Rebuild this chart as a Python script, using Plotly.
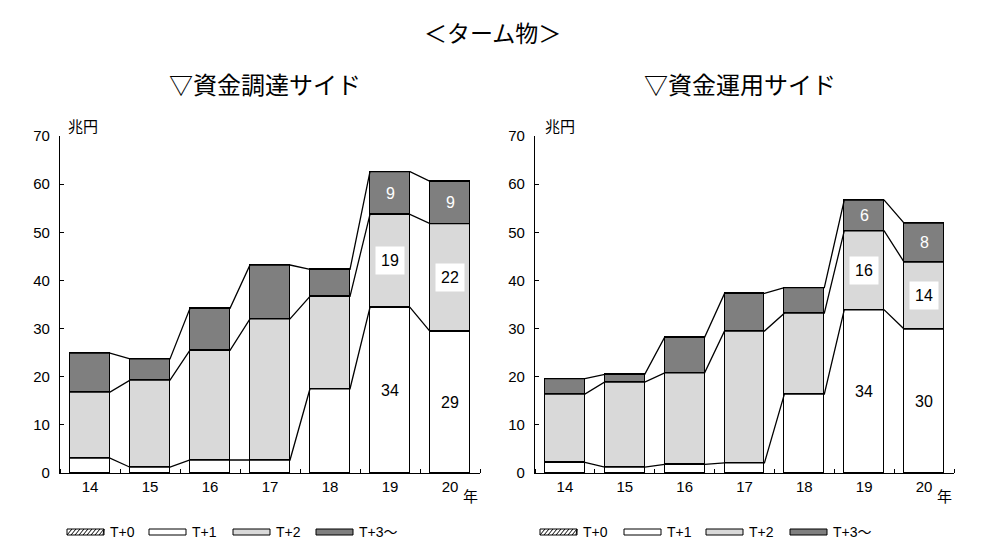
import plotly.graph_objects as go

# ---------------- data ----------------
years = ["14", "15", "16", "17", "18", "19", "20"]
series_names = ["T+0", "T+1", "T+2", "T+3～"]

# 資金調達サイド (兆円)
fund_t0 = [0, 0, 0, 0, 0, 0, 0]
fund_t1 = [3.1, 1.2, 2.7, 2.7, 17.5, 34.4, 29.4]
fund_t2 = [13.7, 18.1, 22.8, 29.3, 19.2, 19.3, 22.4]
fund_t3 = [8.1, 4.4, 8.7, 11.2, 5.6, 8.9, 8.8]

# 資金運用サイド (兆円)
inv_t0 = [0, 0, 0, 0, 0, 0, 0]
inv_t1 = [2.2, 1.2, 1.8, 2.1, 16.4, 33.9, 29.9]
inv_t2 = [14.2, 17.7, 19.0, 27.4, 16.8, 16.4, 13.9]
inv_t3 = [3.2, 1.6, 7.4, 7.8, 5.3, 6.4, 8.1]

labeled_years = ["19", "20"]

main_title = "＜ターム物＞"
sub_titles = ["▽資金調達サイド", "▽資金運用サイド"]
unit_label = "兆円"
year_label = "年"

# ---------------- style ----------------
W, H = 985, 558
OFF = 8  # page offset of the figure inside the browser window
JP = "Noto Sans CJK JP"
NUM = "Liberation Sans Narrow, Liberation Sans, " + JP
colors = ["white", "white", "#d9d9d9", "#7f7f7f"]
BW = 0.667
LW = 1.3

def px_x(p):
    return (p - OFF) / W

def px_y(p):
    return 1 - (p - OFF) / H

def note(x, y, text, size, family=JP, xanchor="center", color="black"):
    return dict(x=px_x(x), y=px_y(y), xref="paper", yref="paper", text=text,
                showarrow=False, xanchor=xanchor, yanchor="middle",
                font=dict(family=family, size=size, color=color))

fig = go.Figure()

panels = [
    dict(data=[fund_t0, fund_t1, fund_t2, fund_t3], xa="x", ya="y",
         dom=[px_x(60), px_x(480)], title_x=265, unit_x=83, year_x=470),
    dict(data=[inv_t0, inv_t1, inv_t2, inv_t3], xa="x2", ya="y2",
         dom=[px_x(535), px_x(954)], title_x=740, unit_x=560, year_x=944),
]
ydom = [px_y(473), px_y(136)]
xpos = list(range(len(years)))

annotations = []
for pi, p in enumerate(panels):
    segs = p["data"]
    for si, vals in enumerate(segs):
        marker = dict(color=colors[si], line=dict(color="black", width=LW))
        if si == 0:
            marker["pattern"] = dict(shape="/", fgcolor="black", bgcolor="white", size=5)
        fig.add_trace(go.Bar(x=xpos, y=vals, width=BW, marker=marker,
                             name=series_names[si], showlegend=False,
                             xaxis=p["xa"], yaxis=p["ya"], hoverinfo="skip"))
    cum = [0.0] * len(years)
    for si, vals in enumerate(segs):
        lower = cum[:]
        cum = [c + v for c, v in zip(cum, vals)]
        if si >= 1:
            lx, ly = [], []
            for i, v in enumerate(cum):
                lx += [i - BW / 2, i + BW / 2]
                ly += [v, v]
            fig.add_trace(go.Scatter(x=lx, y=ly, mode="lines",
                                     line=dict(color="black", width=LW),
                                     showlegend=False, hoverinfo="skip",
                                     xaxis=p["xa"], yaxis=p["ya"]))
            for i, yr in enumerate(years):
                if yr in labeled_years:
                    mid = (lower[i] + cum[i]) / 2
                    txt = str(int(round(vals[i])))
                    a = dict(x=i, y=mid, xref=p["xa"], yref=p["ya"], text=txt,
                             showarrow=False, xanchor="center", yanchor="middle",
                             font=dict(family=NUM, size=16,
                                       color="white" if si == 3 else "black"))
                    if si == 2:
                        a.update(bgcolor="white", borderpad=5)
                    annotations.append(a)
    annotations.append(note(p["title_x"], 84, sub_titles[pi], 24))
    annotations.append(note(p["unit_x"], 125, unit_label, 15))
    annotations.append(note(p["year_x"], 495, year_label, 15))

annotations.append(note(492, 32, main_title, 23))

# legend keys + text
shapes = []
legend_rows = [
    [67, 149, 233, 316],
    [540, 624, 706, 790],
]
for row in legend_rows:
    for si, x0 in enumerate(row):
        x1 = x0 + 37
        y0, y1 = 529, 535
        shapes.append(dict(type="rect", xref="paper", yref="paper",
                           x0=px_x(x0), x1=px_x(x1), y0=px_y(y1), y1=px_y(y0),
                           fillcolor=colors[si], line=dict(color="black", width=1)))
        if si == 0:
            for k in range(0, 37, 4):
                xs = x0 + k
                xe = min(x0 + k + 5, x1)
                shapes.append(dict(type="line", xref="paper", yref="paper",
                                   x0=px_x(xs), y0=px_y(y1), x1=px_x(xe), y1=px_y(y0),
                                   line=dict(color="black", width=1)))
        annotations.append(note(x1 + 4, 532, series_names[si], 14, family=NUM, xanchor="left"))

axis_common_x = dict(range=[-0.5, 6.5], tickmode="array", tickvals=xpos, ticktext=years,
                     ticks="", showline=True, linecolor="black", linewidth=LW,
                     showgrid=False, zeroline=False, automargin=False,
                     tickfont=dict(family=NUM, size=15, color="black"),
                     minor=dict(tickmode="linear", tick0=0.5, dtick=1, ticks="inside",
                                ticklen=4, tickcolor="black", tickwidth=1),
                     fixedrange=True)
axis_common_y = dict(range=[0, 70], dtick=10, ticks="inside", ticklen=4, tickcolor="black",
                     showline=True, linecolor="black", linewidth=LW, showgrid=False,
                     zeroline=False, ticklabelstandoff=6, automargin=False,
                     tickfont=dict(family=NUM, size=15, color="black"), fixedrange=True)

fig.update_layout(
    width=W, height=H, margin=dict(l=0, r=0, t=0, b=0, pad=0),
    paper_bgcolor="white", plot_bgcolor="white",
    barmode="stack", bargap=0,
    xaxis=dict(domain=panels[0]["dom"], anchor="y", **axis_common_x),
    yaxis=dict(domain=ydom, anchor="x", **axis_common_y),
    xaxis2=dict(domain=panels[1]["dom"], anchor="y2", **axis_common_x),
    yaxis2=dict(domain=ydom, anchor="x2", **axis_common_y),
    annotations=annotations, shapes=shapes, showlegend=False,
)

fig.write_html("out.html")
